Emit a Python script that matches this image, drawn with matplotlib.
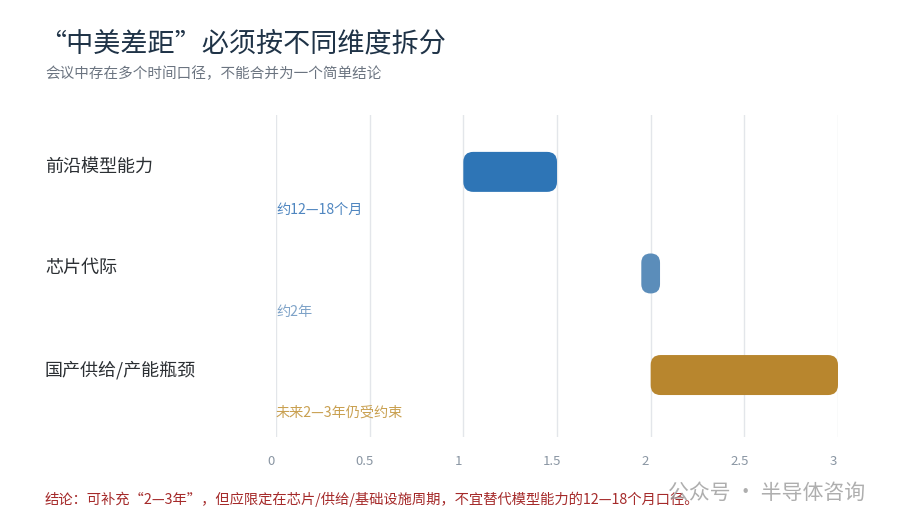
import matplotlib
matplotlib.use("Agg")
import matplotlib.pyplot as plt
from matplotlib.patches import FancyBboxPatch
from matplotlib.transforms import ScaledTranslation, blended_transform_factory

plt.rcParams['font.family'] = ['Noto Sans CJK SC', 'DejaVu Sans']

# ---- data ----
categories = ["前沿模型能力", "芯片代际", "国产供给/产能瓶颈"]
starts = [1.0, 1.95, 2.0]
ends = [1.5, 2.05, 3.0]
notes = ["约12—18个月", "约2年", "未来2—3年仍受约束"]
bar_colors = ["#2E75B6", "#5B8DBA", "#B8862E"]
note_colors = ["#4F86C0", "#7FA3C8", "#C9A050"]
xticks = [0, 0.5, 1, 1.5, 2, 2.5, 3]
xticklabels = ["0", "0.5", "1", "1.5", "2", "2.5", "3"]

title = "“中美差距”必须按不同维度拆分"
subtitle = "会议中存在多个时间口径，不能合并为一个简单结论"
footer = "结论：可补充“2—3年”，但应限定在芯片/供给/基础设施周期，不宜替代模型能力的12—18个月口径。"
watermark = "公众号 · 半导体咨询"

W, H, DPI = 900, 530, 100
fig = plt.figure(figsize=(W / DPI, H / DPI), dpi=DPI)
fig.patch.set_facecolor("white")

ax_left, ax_right = 276 / W, 838 / W
ax_top, ax_bot = 1 - 115 / H, 1 - 437 / H
ax = fig.add_axes([ax_left, ax_bot, ax_right - ax_left, ax_top - ax_bot])
ax.set_xlim(0, 3)
ax.set_ylim(2.61, -0.56)
for s in ax.spines.values():
    s.set_visible(False)
ax.set_yticks([])
ax.set_xticks(xticks)
ax.set_xticklabels(xticklabels, fontsize=9.5, color="#8A96A3")
ax.tick_params(axis="x", length=0, pad=13)
for lbl in ax.get_xticklabels():
    lbl.set_transform(lbl.get_transform() + ScaledTranslation(-5 / DPI, 0, fig.dpi_scale_trans))
ax.grid(axis="x", color="#E3E6EA", linewidth=1)
ax.set_axisbelow(True)

# pixel scales
px_per_x = (ax_right - ax_left) * W / 3.0
px_per_y = (ax_top - ax_bot) * H / (2.61 + 0.56)
bar_h_px = 40
bar_h = bar_h_px / px_per_y
label_tr = blended_transform_factory(fig.transFigure, ax.transData)

for i, (c, s, e) in enumerate(zip(categories, starts, ends)):
    width_px = (e - s) * px_per_x
    r_px = min(10, width_px / 2 - 0.01, bar_h_px / 2)
    r_x = r_px / px_per_x
    aspect = px_per_x / px_per_y
    patch = FancyBboxPatch((s, i - bar_h / 2), e - s, bar_h,
                           boxstyle=f"round,pad=0,rounding_size={r_x}",
                           mutation_aspect=aspect,
                           facecolor=bar_colors[i], edgecolor="none", zorder=3)
    ax.add_patch(patch)
    ax.text(0, i + 0.375, notes[i], color=note_colors[i], fontsize=10.2,
            ha="left", va="center", zorder=4)
    ax.text(45 / W, i - 0.05, c, transform=label_tr,
            fontsize=13, fontweight="medium", color="#2B2F33", ha="left", va="center")

fig.text(39 / W, 1 - 44 / H, title, fontsize=19.5, fontweight="medium", color="#1F3347",
         ha="left", va="center")
fig.text(45 / W, 1 - 74 / H, subtitle, fontsize=10.5, color="#6B7480", ha="left", va="center")
fig.text(45 / W, 1 - 499 / H, footer, fontsize=10.3, color="#A52A2A", ha="left", va="center")
fig.text(668 / W, 1 - 493 / H, watermark, fontsize=15, color="#9A9A9A", alpha=0.8,
         ha="left", va="center")

fig.savefig("out.png", dpi=DPI)
